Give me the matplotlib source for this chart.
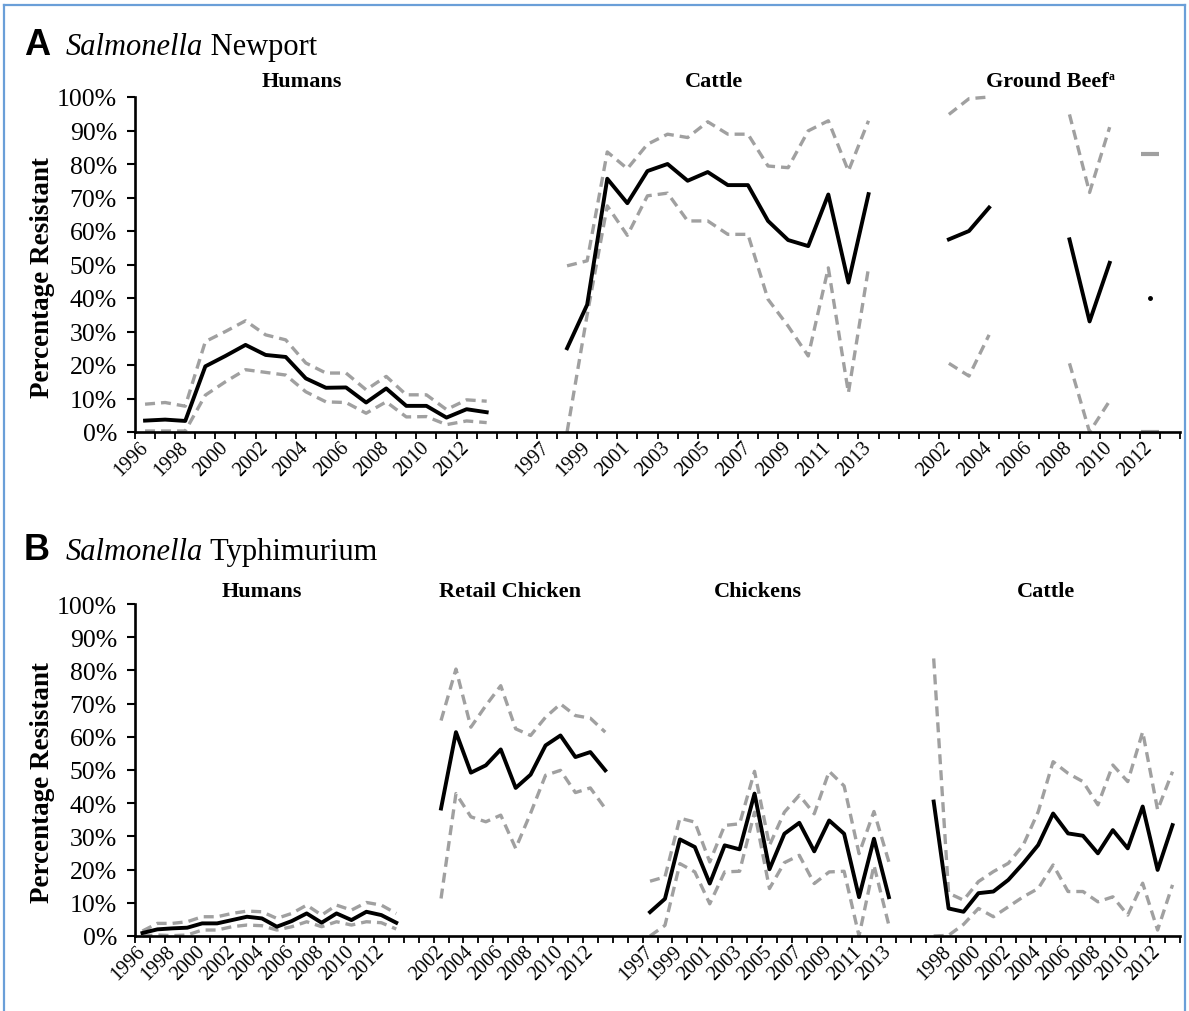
import numpy as np
import matplotlib.pyplot as plt
from matplotlib.lines import Line2D

nan = np.nan
plt.rcParams['font.family'] = ['Liberation Serif', 'DejaVu Serif']

# ---------------- Panel A: Salmonella Newport ----------------
a_hum_years = list(range(1996, 2014))
a_hum_mid = [3.4, 3.7, 3.3, 19.6, 22.7, 26.0, 23.0, 22.4, 16.0, 13.2, 13.3, 8.8, 13.0, 7.8, 7.8, 4.3, 6.8, 5.9]
a_hum_hi = [8.3, 8.8, 7.7, 27.0, 30.0, 33.2, 29.0, 27.5, 20.6, 17.6, 17.6, 12.6, 16.6, 11.1, 11.1, 6.7, 9.6, 9.2]
a_hum_lo = [0.3, 0.3, 0.3, 11.0, 15.0, 18.6, 17.8, 17.0, 12.0, 9.0, 8.8, 5.6, 9.0, 4.5, 4.6, 2.2, 3.3, 2.8]

a_cat_years = list(range(1997, 2014))
a_cat_mid = [nan, 25.0, 38.0, 75.6, 68.3, 77.9, 80.0, 75.0, 77.6, 73.7, 73.7, 63.0, 57.3, 55.5, 70.9, 44.6, 71.0]
a_cat_hi = [nan, 49.6, 51.1, 83.6, 78.6, 85.9, 88.9, 87.9, 92.6, 88.9, 88.9, 79.4, 78.9, 89.9, 92.9, 77.9, 92.9]
a_cat_lo = [nan, 0.0, 35.0, 67.5, 58.7, 70.5, 71.3, 63.0, 63.0, 59.0, 59.0, 39.6, 31.6, 22.7, 49.0, 11.7, 49.0]

a_gb_years = list(range(2002, 2014))
a_gb_mid = [57.5, 60.0, 67.0, nan, nan, nan, 57.5, 33.0, 50.5, nan, 40.0, nan]
a_gb_hi = [94.8, 99.5, 100.0, nan, nan, nan, 94.8, 71.5, 91.0, nan, 83.0, nan]
a_gb_lo = [20.5, 16.7, 29.0, nan, nan, nan, 20.5, 0.0, 9.3, nan, 0.0, nan]

# ---------------- Panel B: Salmonella Typhimurium ----------------
b_hum_years = list(range(1996, 2014))
b_hum_mid = [0.9, 2.0, 2.3, 2.5, 3.8, 3.8, 4.8, 5.8, 5.3, 2.8, 4.5, 6.8, 4.0, 6.8, 4.8, 7.3, 6.3, 4.0]
b_hum_hi = [1.5, 3.8, 3.8, 4.3, 5.8, 5.8, 6.8, 7.5, 7.3, 5.3, 6.8, 9.3, 6.3, 9.3, 7.8, 10.1, 9.3, 6.8]
b_hum_lo = [0.0, 0.3, 0.1, 0.3, 1.8, 1.8, 2.8, 3.3, 3.1, 1.8, 2.8, 4.3, 2.8, 4.3, 3.3, 4.3, 4.0, 2.1]

b_rc_years = list(range(2002, 2014))
b_rc_mid = [38.4, 61.4, 49.2, 51.4, 56.2, 44.6, 48.6, 57.4, 60.4, 53.9, 55.4, 49.9]
b_rc_hi = [64.9, 80.4, 62.9, 69.4, 75.4, 62.4, 60.4, 65.9, 69.9, 66.4, 65.6, 61.4]
b_rc_lo = [11.3, 42.9, 35.9, 34.4, 36.4, 26.4, 37.0, 48.4, 49.9, 43.2, 44.6, 38.4]

b_ch_years = list(range(1997, 2014))
b_ch_mid = [7.2, 11.2, 29.1, 26.8, 15.8, 27.3, 26.1, 42.9, 20.1, 30.8, 34.1, 25.5, 34.8, 30.8, 11.7, 29.3, 11.7]
b_ch_hi = [16.5, 17.8, 35.5, 34.3, 22.3, 33.3, 33.8, 49.6, 27.3, 37.3, 42.4, 36.8, 49.6, 45.2, 24.8, 37.5, 22.3]
b_ch_lo = [0.0, 3.2, 21.8, 19.3, 9.7, 19.3, 19.5, 37.3, 14.3, 22.1, 24.3, 15.8, 19.3, 19.5, 0.0, 21.3, 3.2]

b_cat_years = list(range(1997, 2014))
b_cat_mid = [40.5, 8.3, 7.3, 12.9, 13.4, 16.9, 21.9, 27.4, 36.9, 30.9, 30.2, 24.9, 31.9, 26.4, 39.0, 19.9, 33.4]
b_cat_hi = [83.6, 12.9, 10.8, 16.4, 19.4, 21.9, 27.4, 37.4, 52.5, 49.0, 46.5, 39.5, 51.5, 46.5, 61.5, 38.0, 49.5]
b_cat_lo = [0.0, 0.2, 3.5, 8.3, 5.8, 8.8, 11.8, 14.3, 21.4, 13.4, 13.4, 10.3, 11.8, 6.3, 15.9, 1.8, 15.4]

W, H = 1189, 1012
GRAY = '#a0a0a0'
fig = plt.figure(figsize=(W / 100, H / 100), dpi=100)


def px_axes(left, top, right, bottom):
    return fig.add_axes([left / W, 1 - bottom / H, (right - left) / W, (bottom - top) / H])


def isolated(v):
    v = np.asarray(v, float)
    ok = ~np.isnan(v)
    left = np.r_[False, ok[:-1]]
    right = np.r_[ok[1:], False]
    return ok & ~left & ~right


def draw_panel(ax, groups, gaps, names, name_x, name_y):
    start, labels = 0, []
    for (years, mid, hi, lo), gap in zip(groups, gaps):
        x = start + np.arange(len(years)) + 0.5
        for s in (hi, lo):
            s = np.asarray(s, float)
            ax.plot(x, s, color=GRAY, lw=2.4, dashes=(3, 1.8), clip_on=False)
            iso = isolated(s)
            ax.plot(x[iso], s[iso], ls='none', marker='_', ms=13, mew=3, color=GRAY, clip_on=False)
        m = np.asarray(mid, float)
        ax.plot(x, m, color='black', lw=2.8, clip_on=False, zorder=3)
        iso = isolated(m)
        ax.plot(x[iso], m[iso], ls='none', marker='o', ms=2.5, color='black', clip_on=False)
        labels += [str(y) for y in years] + [''] * gap
        start += len(years) + gap
    n = start
    # every other category gets a label, like the original category axis
    labels = [lab if i % 2 == 0 else '' for i, lab in enumerate(labels[:n])]

    ax.set_xlim(0, n)
    ax.set_ylim(0, 100)
    ax.set_yticks(np.arange(0, 101, 10))
    ax.set_yticklabels([f'{v}%' for v in range(0, 101, 10)])
    ax.set_xticks(np.arange(n + 1))
    ax.set_xticklabels([])
    ax.set_xticks(np.arange(n) + 0.5, minor=True)
    ax.set_xticklabels(labels, minor=True, rotation=45, ha='right', va='center',
                       rotation_mode='anchor', fontsize=14.5)
    ax.tick_params(axis='x', which='major', direction='out', length=5, width=1.3)
    ax.tick_params(axis='x', which='minor', length=0, pad=9)
    ax.tick_params(axis='y', direction='out', length=6, width=1.5, pad=7, labelsize=18.5)
    for side in ('top', 'right'):
        ax.spines[side].set_visible(False)
    for side in ('left', 'bottom'):
        ax.spines[side].set_linewidth(1.9)
    for nm, xc in zip(names, name_x):
        t = ax.text(xc, name_y, nm.rstrip('^'), ha='center', va='center', fontsize=16,
                    fontweight='bold', transform=ax.get_xaxis_transform(), clip_on=False)
        if nm.endswith('^'):
            ax.annotate('a', xy=(1, 0.75), xycoords=t, fontsize=8.5, fontweight='bold',
                        ha='left', va='center')


axA = px_axes(135, 98, 1180, 433)
draw_panel(axA,
           [(a_hum_years, a_hum_mid, a_hum_hi, a_hum_lo),
            (a_cat_years, a_cat_mid, a_cat_hi, a_cat_lo),
            (a_gb_years, a_gb_mid, a_gb_hi, a_gb_lo)],
           [2, 3, 0],
           ['Humans', 'Cattle', 'Ground Beef^'], [8.3, 28.8, 45.4], 1.048)

axB = px_axes(135, 605, 1180, 937)
draw_panel(axB,
           [(b_hum_years, b_hum_mid, b_hum_hi, b_hum_lo),
            (b_rc_years, b_rc_mid, b_rc_hi, b_rc_lo),
            (b_ch_years, b_ch_mid, b_ch_hi, b_ch_lo),
            (b_cat_years, b_cat_mid, b_cat_hi, b_cat_lo)],
           [2, 2, 2, 0],
           ['Humans', 'Retail Chicken', 'Chickens', 'Cattle'], [8.5, 25.1, 41.7, 61.0], 1.04)

# y labels
for top, bottom in ((98, 433), (605, 937)):
    fig.text(43 / W, 1 - ((top + bottom) / 2 + 12) / H, 'Percentage Resistant', rotation=90,
             ha='center', va='center', fontsize=19.5, fontweight='bold')

# panel titles
for letter, species, base in (('A', 'Newport', 55), ('B', 'Typhimurium', 560)):
    fig.text(24 / W, 1 - base / H, letter, fontsize=26, fontweight='bold',
             family=['Liberation Sans', 'DejaVu Sans'], va='baseline')
    t = fig.text(66 / W, 1 - base / H, 'Salmonella', fontsize=22, style='italic', va='baseline')
    plt.annotate(' ' + species, xy=(1, 0), xycoords=t, fontsize=22, va='bottom', ha='left')

# light blue frame round the figure
for xs, ys in (([4, 4], [6, 1012]), ([4, 1185], [6, 6]), ([1185, 1185], [6, 1012])):
    fig.add_artist(Line2D([v / W for v in xs], [1 - v / H for v in ys], color='#6a9fd8', lw=1.6))

fig.savefig('out.png', dpi=100)
